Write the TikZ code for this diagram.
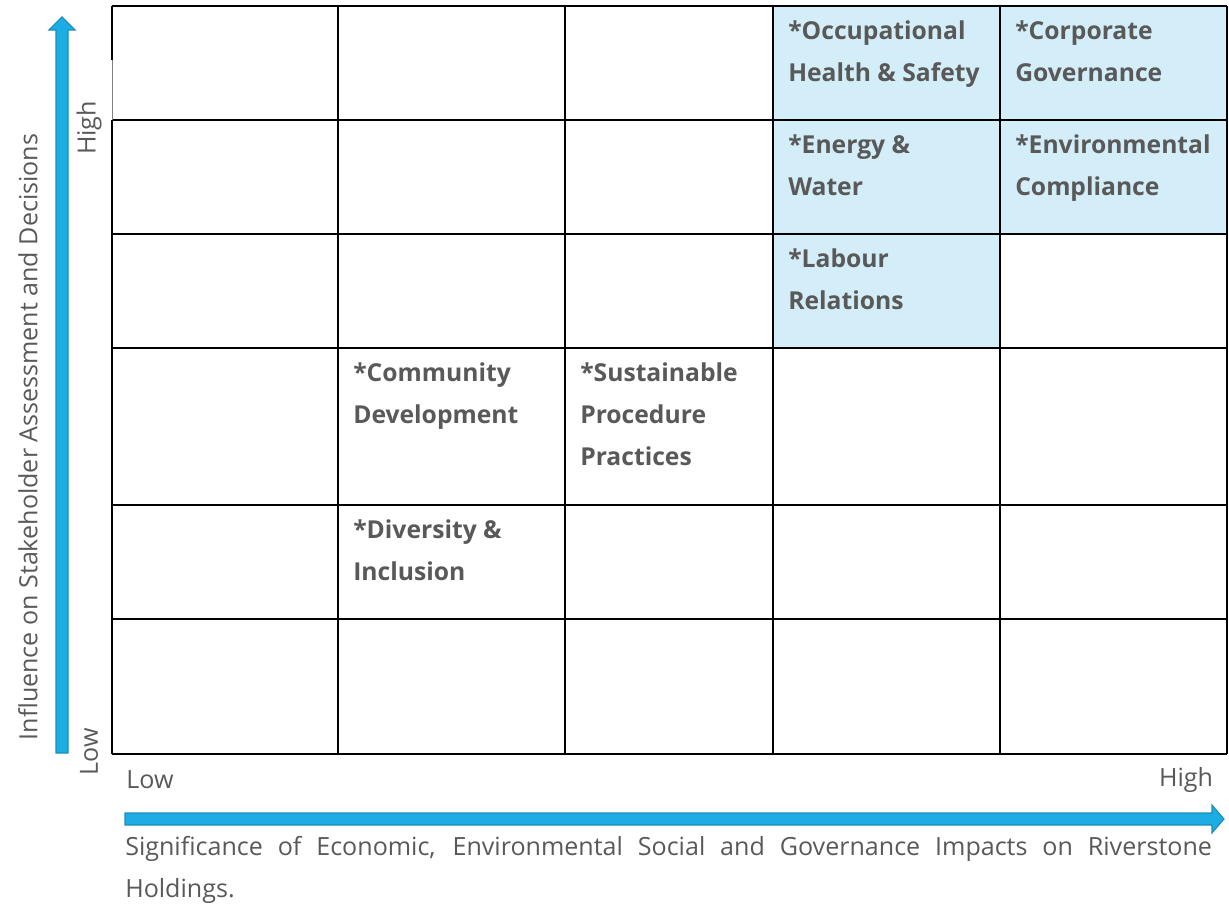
\documentclass[tikz,border=0pt]{standalone}
\usepackage{fontspec}
\setmainfont{Open Sans}
\definecolor{txtgray}{HTML}{595959}
\definecolor{cellblue}{HTML}{D3EEF8}
\definecolor{arrowblue}{HTML}{1CADE4}
\definecolor{arrowedge}{HTML}{1B8CBD}
\tikzset{
  grid line/.style={black,line width=1.5pt},
  topic/.style={anchor=north west,align=left,inner sep=0pt,text=txtgray,
    font=\fontsize{18.5}{31.5}\selectfont\bfseries},
  scale label/.style={inner sep=0pt,text=txtgray,font=\fontsize{18.8}{20}\selectfont},
  axis arrow/.style={fill=arrowblue,draw=arrowedge,line width=0.8pt,line join=miter}
}
\begin{document}
\begin{tikzpicture}[x=0.75pt,y=-0.75pt]
\useasboundingbox (0,0) rectangle (1229,905);
% shaded cells
\fill[cellblue] (773,6) rectangle (1227,234);
\fill[cellblue] (773,234) rectangle (1000,348);
% grid
\foreach \y in {6,120,234,348,505,619,754}
  \draw[grid line] (112,\y) -- (1227,\y);
\foreach \x in {338,565,773,1000,1227}
  \draw[grid line] (\x,6) -- (\x,754);
\draw[grid line] (112,6) -- (112,60);
\draw[gray,line width=0.6pt] (112,60) -- (112,120);
\draw[grid line] (112,120) -- (112,754);
% topics
\node[topic] (ohs) at (788,20) {*Occupational\\Health \& Safety};
\node[topic] (gov) at (1015,20) {*Corporate\\Governance};
\node[topic] (energy) at (788,134) {*Energy \&\\Water};
\node[topic] (envcomp) at (1015,134) {*Environmental\\Compliance};
\node[topic] (labour) at (788,248) {*Labour\\Relations};
\node[topic] (community) at (353,362) {*Community\\Development};
\node[topic] (procure) at (580,362) {*Sustainable\\Procedure\\Practices};
\node[topic] (diversity) at (353,519) {*Diversity \&\\Inclusion};
% axes
\draw[axis arrow] (56,753) -- (56,30) -- (49,30) -- (62,17) -- (75,30) -- (68,30) -- (68,753) -- cycle;
\draw[axis arrow] (125,813) -- (1212,813) -- (1212,805) -- (1224,819) -- (1212,833) -- (1212,825) -- (125,825) -- cycle;
\node[scale label,rotate=90] (yhigh) at (89,128) {High};
\node[scale label,rotate=90] (ylow) at (89,752) {Low};
\node[scale label] (xlow) at (150,780) {Low};
\node[scale label] (xhigh) at (1186,780) {High};
\node[scale label,rotate=90] (ytitle) at (28,437) {Influence on Stakeholder Assessment and Decisions};
\node[scale label,anchor=north west,text width=815pt,align=justify,
  font=\fontsize{18.8}{31.5}\selectfont] (xtitle) at (125,836)
  {Significance of Economic, Environmental Social and Governance Impacts on Riverstone\linebreak Holdings.};
\end{tikzpicture}
\end{document}
